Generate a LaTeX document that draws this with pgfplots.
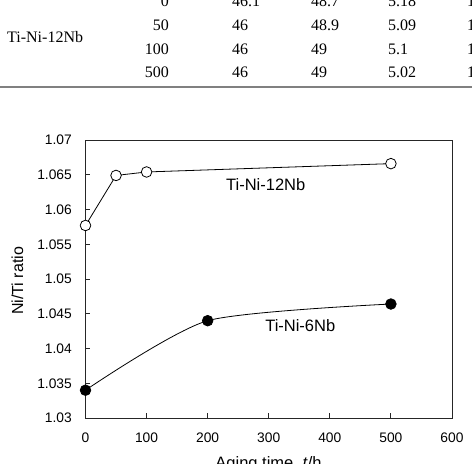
\documentclass[border=0pt]{standalone}
\usepackage{pgfplots}
\pgfplotsset{compat=1.18}
\usepackage{fontspec}
\setmainfont{Liberation Sans}
\newfontfamily\tabfont{Liberation Serif}

\begin{document}
\begin{tikzpicture}[x=1pt,y=1pt]
\path[use as bounding box] (0,0) rectangle (472,464);
\clip (0,0) rectangle (472,464);

% --- tail of the composition table ---
\begin{scope}[every node/.style={inner sep=0pt,font=\tabfont\fontsize{16}{18}\selectfont}]
  \node[anchor=base west] at (7,421) {Ti-Ni-12Nb};
  \foreach \t/\a/\b/\c/\yy in {0/46.1/48.7/5.18/457, 50/46/48.9/5.09/433, 100/46/49/5.1/409.5, 500/46/49/5.02/386}{
    \node[anchor=base east] at (169,\yy) {\t};
    \node[anchor=base west] at (232,\yy) {\a};
    \node[anchor=base west] at (311,\yy) {\b};
    \node[anchor=base west] at (388,\yy) {\c};
    \node[anchor=base west] at (467,\yy) {1};
  }
\end{scope}
\draw[line width=1.6pt, black!50] (0,377) -- (472,377);

% --- Ni/Ti ratio vs aging time ---
\begin{axis}[
  at={(85.5pt,46pt)}, anchor=south west,
  scale only axis, width=366.5pt, height=278pt,
  xmin=0, xmax=600, ymin=1.03, ymax=1.07,
  xtick={0,100,...,600},
  ytick={1.03,1.035,1.04,1.045,1.05,1.055,1.06,1.065,1.07},
  yticklabels={1.03,1.035,1.04,1.045,1.05,1.055,1.06,1.065,1.07},
  xticklabels={0,100,200,300,400,500,600},
  tick pos=left, tick align=inside,
  major tick length=4.5pt,
  axis line style={line width=0.9pt, black!85},
  tick style={line width=0.9pt, black!85},
  ticklabel style={font=\fontsize{13.8}{16}\selectfont, inner sep=0pt},
  xticklabel style={anchor=north, yshift=-14.5pt},
  yticklabel style={anchor=east, xshift=-13.5pt},
  clip=false,
]
\addplot[black, line width=0.8pt, mark=*, mark size=5.3pt,
  mark options={fill=white, draw=black, line width=0.8pt}]
  coordinates {(0,1.0577) (50,1.0649) (100,1.0654) (500,1.0666)};
\addplot[black, line width=0.8pt, smooth, tension=0.4, mark=*, mark size=5.3pt,
  mark options={fill=black, draw=black}]
  coordinates {(0,1.0340) (200,1.0440) (500,1.0464)};
\node[anchor=base west, inner sep=0pt, font=\fontsize{16.5}{19}\selectfont] at (axis cs:230,1.0627) {Ti-Ni-12Nb};
\node[anchor=base west, inner sep=0pt, font=\fontsize{16.5}{19}\selectfont] at (axis cs:294,1.0424) {Ti-Ni-6Nb};
\end{axis}

\node[rotate=90, inner sep=0pt, font=\fontsize{16}{18}\selectfont] at (17.5,183) {Ni/Ti ratio};
\node[anchor=base, inner sep=0pt, font=\fontsize{16.5}{19}\selectfont] at (268.5,-5) {Aging time, \textit{t}/h};
\end{tikzpicture}
\end{document}
